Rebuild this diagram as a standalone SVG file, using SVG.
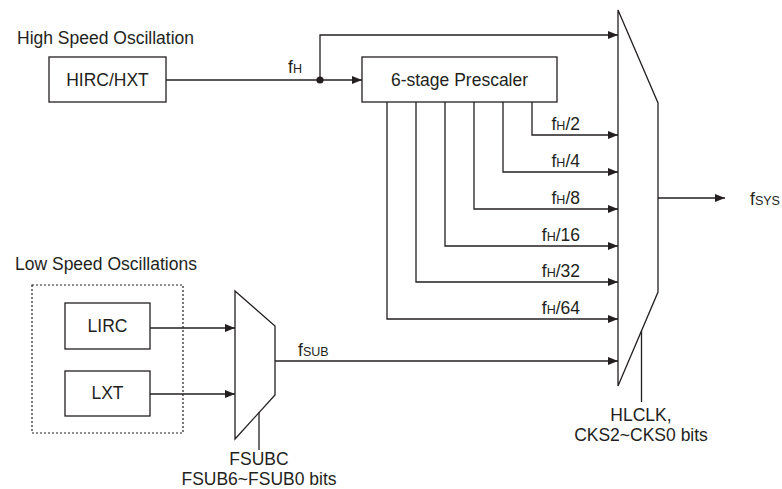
<svg xmlns="http://www.w3.org/2000/svg" width="782" height="489" viewBox="0 0 782 489">
<style>
text{font-family:"Liberation Sans",Arial,sans-serif;font-size:17.5px;fill:#231f20}
.s{font-size:12.5px}
.box{fill:#fff;stroke:#231f20;stroke-width:1.3}
.ln{fill:none;stroke:#231f20;stroke-width:1.3}
.ar{fill:none;stroke:#231f20;stroke-width:1.3;marker-end:url(#ah)}
</style>
<defs>
<marker id="ah" markerUnits="userSpaceOnUse" markerWidth="11" markerHeight="9" refX="10" refY="4" orient="auto">
<path d="M0,0 L10,4 L0,8 z" fill="#231f20"/>
</marker>
</defs>
<rect width="782" height="489" fill="#fff"/>

<g id="labels">
<text x="17" y="44">High Speed Oscillation</text>
<text x="15" y="270">Low Speed Oscillations</text>
</g>

<g id="hirc">
<rect class="box" x="49" y="57" width="117" height="45"/>
<text x="107.5" y="86" text-anchor="middle">HIRC/HXT</text>
</g>

<g id="prescaler">
<rect class="box" x="362" y="57" width="195" height="45"/>
<text x="459.5" y="86" text-anchor="middle">6-stage Prescaler</text>
</g>

<g id="ls-group">
<rect x="32" y="285" width="151" height="148" fill="none" stroke="#231f20" stroke-width="1.2" stroke-dasharray="2,2"/>
</g>

<g id="lirc">
<rect class="box" x="65" y="303" width="85" height="46"/>
<text x="107.5" y="332" text-anchor="middle">LIRC</text>
</g>

<g id="lxt">
<rect class="box" x="65" y="371" width="85" height="45"/>
<text x="107.5" y="399" text-anchor="middle">LXT</text>
</g>

<g id="mux-sub">
<path class="box" d="M235,291 L275,326 L275,395 L235,439 Z"/>
<line class="ln" x1="259" y1="412" x2="259" y2="450"/>
<text x="259" y="465" text-anchor="middle">FSUBC</text>
<text x="259" y="485" text-anchor="middle">FSUB6~FSUB0 bits</text>
</g>

<g id="mux-main">
<path class="box" d="M618,10 L658,103 L658,292 L618,386 Z"/>
<line class="ln" x1="641.5" y1="331" x2="641.5" y2="402"/>
<text x="641" y="421" text-anchor="middle">HLCLK,</text>
<text x="641" y="441" text-anchor="middle">CKS2~CKS0 bits</text>
</g>

<g id="connectors">
<line class="ln" x1="166" y1="80" x2="320" y2="80"/>
<circle cx="320" cy="80" r="3.6" fill="#231f20"/>
<line class="ar" x1="320" y1="80" x2="362" y2="80"/>
<polyline class="ar" points="320,80 320,35 618,35"/>
<text x="288" y="73">f<tspan class="s">H</tspan></text>

<polyline class="ar" points="532,102 532,135 618,135"/>
<polyline class="ar" points="503,102 503,172 618,172"/>
<polyline class="ar" points="474,102 474,209 618,209"/>
<polyline class="ar" points="445,102 445,246 618,246"/>
<polyline class="ar" points="416,102 416,282 618,282"/>
<polyline class="ar" points="387,102 387,319 618,319"/>
<text x="580" y="130" text-anchor="end">f<tspan class="s">H</tspan>/2</text>
<text x="580" y="167" text-anchor="end">f<tspan class="s">H</tspan>/4</text>
<text x="580" y="204" text-anchor="end">f<tspan class="s">H</tspan>/8</text>
<text x="580" y="241" text-anchor="end">f<tspan class="s">H</tspan>/16</text>
<text x="580" y="277" text-anchor="end">f<tspan class="s">H</tspan>/32</text>
<text x="580" y="314" text-anchor="end">f<tspan class="s">H</tspan>/64</text>

<line class="ar" x1="150" y1="328" x2="235" y2="328"/>
<line class="ar" x1="150" y1="394" x2="235" y2="394"/>
<line class="ar" x1="275" y1="361" x2="618" y2="361"/>
<text x="298" y="356">f<tspan class="s">SUB</tspan></text>

<line class="ar" x1="658" y1="198" x2="725" y2="198"/>
<text x="750" y="205">f<tspan class="s">SYS</tspan></text>
</g>
</svg>
